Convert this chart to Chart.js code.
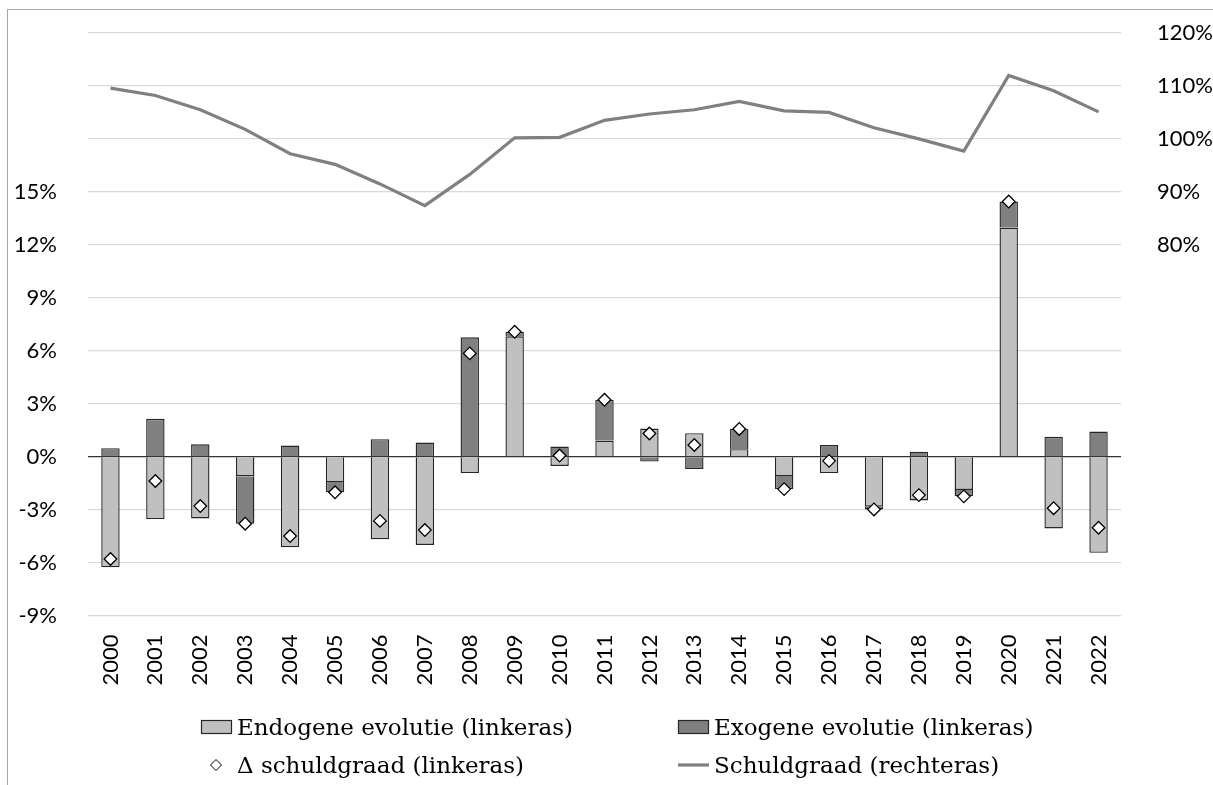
<!DOCTYPE html>
<html>
<head>
<meta charset="utf-8">
<script src="https://cdn.jsdelivr.net/npm/chart.js@4/dist/chart.umd.min.js"></script>
<style>
  html, body { margin: 0; padding: 0; background: #fff; }
  #wrap { position: relative; width: 1213px; height: 785px; }
</style>
</head>
<body>
<div id="wrap"><canvas id="c" width="1213" height="785"></canvas></div>
<script>
// Jaren
const years = ['2000','2001','2002','2003','2004','2005','2006','2007','2008','2009','2010',
               '2011','2012','2013','2014','2015','2016','2017','2018','2019','2020','2021','2022'];

// Endogene evolutie (procentpunt, linkeras)
const endogeen = [-6.27, -3.54, -3.50, -1.11, -5.13, -1.44, -4.68, -5.00, -0.93, 6.82, -0.53,
                   0.91, 1.59, 1.33, 0.42, -1.10, -0.93, -2.84, -2.48, -1.89, 12.98, -4.07, -5.45];

// Exogene evolutie (procentpunt, linkeras)
const exogeen = [0.48, 2.14, 0.70, -2.69, 0.63, -0.58, 0.99, 0.80, 6.76, 0.25, 0.57,
                 2.31, -0.28, -0.70, 1.15, -0.74, 0.66, -0.15, 0.28, -0.36, 1.47, 1.12, 1.42];

// Δ schuldgraad (procentpunt, linkeras)
const deltaSchuld = [-5.80, -1.38, -2.80, -3.80, -4.50, -2.02, -3.64, -4.16, 5.85, 7.07, 0.06,
                     3.22, 1.31, 0.66, 1.57, -1.84, -0.24, -2.99, -2.18, -2.25, 14.45, -2.92, -4.03];

// Schuldgraad (% bbp, rechteras)
const schuldgraad = [109.6, 108.2, 105.5, 101.8, 97.2, 95.2, 91.5, 87.4, 93.3, 100.2, 100.3,
                     103.5, 104.7, 105.5, 107.1, 105.3, 105.0, 102.1, 100.0, 97.7, 112.0, 109.1, 105.1];

// Assen: links -9% .. 24% (labels t/m 15%), rechts 10% .. 120% (labels vanaf 80%)
const leftTicksShown = [-9, -6, -3, 0, 3, 6, 9, 12, 15];
const rightTicksShown = [80, 90, 100, 110, 120];

const LIGHT = '#c0c0c0';
const DARK = '#808080';
const EDGE = '#262626';
const TICK_FONT = { family: 'Lato, "Open Sans", sans-serif', size: 22 };

// Kader rond de grafiek
const framePlugin = {
  id: 'frame',
  beforeDraw(chart) {
    const ctx = chart.ctx;
    ctx.save();
    ctx.fillStyle = '#fff';
    ctx.fillRect(0, 0, chart.width, chart.height);
    ctx.strokeStyle = '#a6a6a6';
    ctx.lineWidth = 1;
    ctx.strokeRect(7.5, 9.5, chart.width + 20, chart.height + 20);
    ctx.restore();
  }
};

// Legende in twee kolommen onder de grafiek
const gridLegend = {
  id: 'gridLegend',
  afterDraw(chart) {
    const ctx = chart.ctx;
    const ds = chart.data.datasets;
    const cols = [201, 678];
    const baselines = [735, 773];
    // volgorde: endogeen, exogeen / delta, schuldgraad
    const items = [
      { d: ds[2], col: 0, row: 0, kind: 'box' },
      { d: ds[3], col: 1, row: 0, kind: 'box' },
      { d: ds[0], col: 0, row: 1, kind: 'point' },
      { d: ds[1], col: 1, row: 1, kind: 'line' }
    ];
    ctx.save();
    ctx.font = '23px "DejaVu Serif", serif';
    ctx.textBaseline = 'alphabetic';
    ctx.textAlign = 'left';
    items.forEach(it => {
      const x = cols[it.col];
      const base = baselines[it.row];
      const cy = base - 8;
      if (it.kind === 'box') {
        ctx.fillStyle = it.d.backgroundColor;
        ctx.fillRect(x, cy - 7, 31, 14);
        ctx.strokeStyle = EDGE;
        ctx.lineWidth = 1.2;
        ctx.strokeRect(x + 0.5, cy - 6.5, 30, 13);
      } else if (it.kind === 'line') {
        ctx.strokeStyle = it.d.borderColor;
        ctx.lineWidth = 3.2;
        ctx.beginPath();
        ctx.moveTo(x, cy);
        ctx.lineTo(x + 31, cy);
        ctx.stroke();
      } else {
        const px = x + 15, r = 5.5;
        ctx.beginPath();
        ctx.moveTo(px - r, cy);
        ctx.lineTo(px, cy - r);
        ctx.lineTo(px + r, cy);
        ctx.lineTo(px, cy + r);
        ctx.closePath();
        ctx.fillStyle = '#fff';
        ctx.fill();
        ctx.strokeStyle = '#000';
        ctx.lineWidth = 1;
        ctx.stroke();
      }
      ctx.fillStyle = '#000';
      ctx.fillText(it.d.label, x + 36, base);
    });
    ctx.restore();
  }
};

new Chart(document.getElementById('c'), {
  data: {
    labels: years,
    datasets: [
      {
        type: 'line',
        label: 'Δ schuldgraad (linkeras)',
        data: deltaSchuld,
        yAxisID: 'y',
        stack: 'delta',
        showLine: false,
        pointStyle: 'rectRot',
        pointRadius: 6.3,
        pointBackgroundColor: '#fff',
        pointBorderColor: '#000',
        pointBorderWidth: 1.3,
        order: 0
      },
      {
        type: 'line',
        label: 'Schuldgraad (rechteras)',
        data: schuldgraad,
        yAxisID: 'y1',
        borderColor: DARK,
        borderWidth: 3.2,
        pointRadius: 0,
        tension: 0,
        order: 1
      },
      {
        type: 'bar',
        label: 'Endogene evolutie (linkeras)',
        data: endogeen,
        yAxisID: 'y',
        stack: 'evolutie',
        backgroundColor: LIGHT,
        borderColor: EDGE,
        borderWidth: 1.4,
        order: 2
      },
      {
        type: 'bar',
        label: 'Exogene evolutie (linkeras)',
        data: exogeen,
        yAxisID: 'y',
        stack: 'evolutie',
        backgroundColor: DARK,
        borderColor: EDGE,
        borderWidth: 1.4,
        order: 2
      }
    ]
  },
  options: {
    responsive: false,
    animation: false,
    devicePixelRatio: 1,
    layout: { padding: { top: 33, left: 0, right: 0, bottom: 0 } },
    datasets: { bar: { categoryPercentage: 1, barPercentage: 0.41 } },
    plugins: {
      legend: { display: false },
      tooltip: { enabled: false }
    },
    scales: {
      x: {
        stacked: true,
        offset: true,
        grid: { display: false, drawTicks: false },
        border: { display: false },
        ticks: {
          font: TICK_FONT,
          color: '#000',
          minRotation: 90,
          maxRotation: 90,
          padding: 19,
          autoSkip: false
        },
        afterFit(scale) { scale.height = 169.5; }
      },
      y: {
        position: 'left',
        stacked: true,
        min: -9,
        max: 24,
        grid: {
          drawTicks: false,
          color: ctx => (ctx.tick && ctx.tick.value === 0) ? '#333' : '#d9d9d9',
          lineWidth: ctx => (ctx.tick && ctx.tick.value === 0) ? 1.3 : 1.2
        },
        border: { display: false },
        ticks: {
          stepSize: 3,
          font: TICK_FONT,
          color: '#000',
          padding: 31,
          callback: v => leftTicksShown.includes(v) ? v + '%' : ''
        },
        afterFit(scale) {
          scale.width = 88;
          scale.paddingTop = 0;
          scale.paddingBottom = 0;
        }
      },
      y1: {
        position: 'right',
        min: 10,
        max: 120,
        grid: { display: false, drawTicks: false },
        border: { display: false },
        ticks: {
          stepSize: 10,
          font: TICK_FONT,
          color: '#000',
          padding: 36,
          callback: v => rightTicksShown.includes(v) ? v + '%' : ''
        },
        afterFit(scale) {
          scale.width = 92;
          scale.paddingTop = 0;
          scale.paddingBottom = 0;
        }
      }
    }
  },
  plugins: [framePlugin, gridLegend]
});
</script>
</body>
</html>
